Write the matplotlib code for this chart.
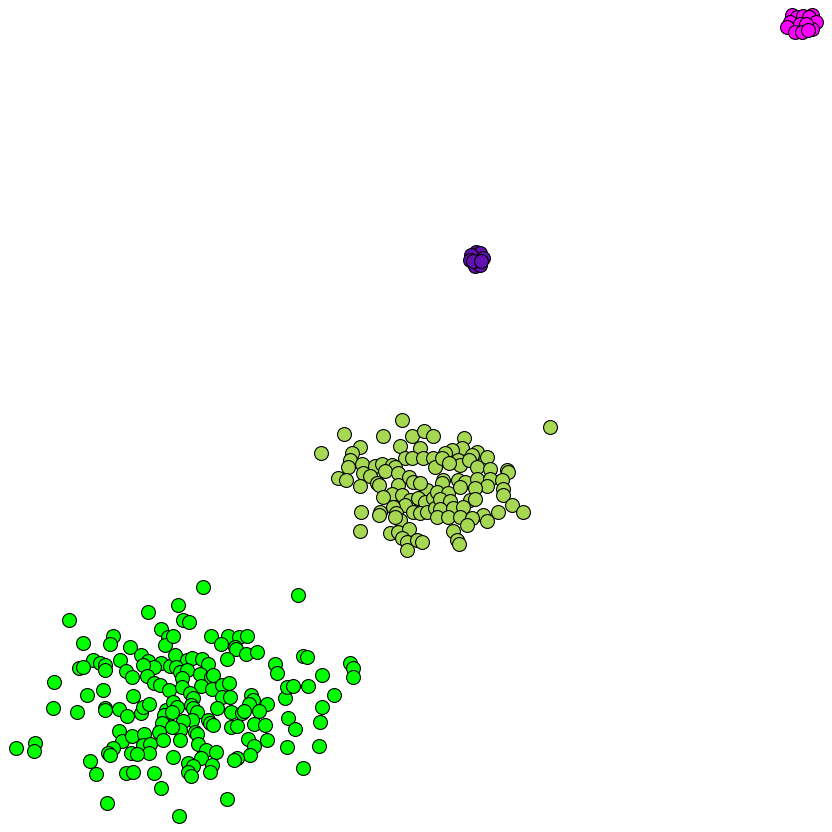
import matplotlib
matplotlib.use('Agg')
import matplotlib.pyplot as plt

# point positions (pixel coords, y down)
green_x = [69, 148, 113, 110, 83, 161, 168, 165, 130, 141, 148, 161, 154, 93, 100, 105, 105, 79, 83, 120,
           126, 132, 143, 147, 154, 160, 169, 170, 54, 87, 103, 133, 53, 77, 105, 105, 119, 127, 141, 143,
           149, 166, 164, 162, 119, 122, 132, 144, 143, 150, 149, 159, 163, 16, 35, 34, 113, 108, 110, 131,
           137, 90, 96, 126, 133, 154, 161, 107,
           203, 298, 178, 183, 189, 173, 211, 228, 239, 247, 221, 235, 236, 246, 257, 227, 275, 277, 303, 307,
           350, 353, 353, 322, 175, 187, 192, 202, 208, 176, 180, 187, 200, 211, 213, 182, 182, 201, 212, 222,
           229, 190, 193, 191, 222, 230, 251, 253, 249, 267, 259, 285, 287, 293, 308, 334, 173, 177, 172, 193,
           197, 217, 231, 242, 244, 208, 210, 213, 192, 183, 231, 237, 254, 265, 288, 295, 322, 320, 180, 172,
           195, 197, 180, 198, 206, 216, 201, 248, 254, 250, 267, 287, 319, 173, 237, 234, 188, 193, 188, 191,
           212, 210, 303, 227, 179]
green_y = [620, 612, 636, 644, 643, 629, 637, 645, 647, 655, 661, 663, 667, 660, 663, 665, 670, 668, 667, 660,
           671, 677, 665, 676, 683, 685, 690, 666, 682, 695, 690, 696, 708, 712, 708, 710, 709, 716, 713, 707,
           704, 710, 715, 723, 731, 741, 736, 734, 745, 744, 753, 732, 740, 748, 743, 751, 748, 753, 755, 753,
           754, 761, 774, 773, 772, 773, 788, 803,
           587, 595, 605, 620, 622, 636, 636, 636, 637, 636, 644, 647, 649, 654, 652, 659, 664, 673, 656, 657,
           663, 668, 677, 675, 655, 660, 658, 659, 664, 667, 672, 670, 674, 677, 675, 678, 687, 686, 689, 685,
           683, 693, 698, 705, 697, 697, 695, 700, 704, 704, 711, 698, 687, 686, 686, 695, 702, 707, 712, 708,
           712, 708, 712, 713, 711, 720, 723, 725, 720, 721, 727, 726, 724, 725, 718, 729, 707, 722, 730, 727,
           732, 734, 740, 744, 750, 752, 758, 739, 746, 755, 740, 747, 746, 757, 758, 760, 763, 766, 772, 776,
           765, 772, 768, 799, 816]

olive_x = [402, 344, 383, 412, 424, 433, 321, 360, 352, 350, 348, 400, 420, 405, 412, 423, 433, 362, 375, 382,
           392, 395, 435, 338, 346, 363, 370, 385, 398, 360, 377, 379, 398, 409, 413, 427, 420, 392, 383, 402,
           410, 405, 418, 425, 433, 361, 380, 379, 393, 396, 400, 413, 420, 427, 435, 395, 360, 390, 398, 409,
           402, 407, 407, 417, 422,
           550, 464, 462, 452, 445, 442, 477, 472, 487, 458, 460, 449, 469, 477, 490, 507, 508, 443, 442, 458,
           465, 477, 490, 502, 503, 503, 487, 437, 448, 460, 475, 440, 450, 470, 475, 512, 523, 498, 483, 487,
           440, 453, 463, 437, 448, 460, 472, 467, 453, 457, 459]
olive_y = [420, 434, 436, 436, 431, 436, 453, 447, 453, 460, 467, 446, 448, 458, 458, 458, 458, 464, 466, 464,
           465, 467, 467, 478, 480, 473, 476, 471, 473, 486, 483, 485, 485, 477, 482, 490, 483, 494, 497, 495,
           500, 505, 498, 502, 498, 512, 512, 515, 507, 513, 520, 512, 513, 512, 508, 517, 531, 533, 532, 529,
           538, 542, 550, 540, 542,
           427, 438, 448, 450, 453, 458, 452, 455, 457, 460, 465, 463, 460, 467, 469, 470, 472, 480, 483, 480,
           482, 479, 479, 480, 489, 495, 486, 492, 493, 487, 488, 499, 501, 500, 499, 505, 512, 512, 515, 521,
           509, 508, 507, 517, 517, 517, 518, 525, 531, 540, 544]

purple_x = [476, 480, 471, 483, 470, 475, 480, 473, 481]
purple_y = [252, 253, 255, 258, 260, 266, 265, 261, 261]

magenta_x = [792, 812, 797, 803, 809, 790, 816, 787, 812, 800, 806, 795, 802, 808]
magenta_y = [15, 15, 17, 16, 17, 22, 22, 27, 29, 24, 24, 32, 32, 30]

fig = plt.figure(figsize=(8.32, 8.32), dpi=100)
ax = fig.add_axes([0, 0, 1, 1])

ax.scatter(green_x, green_y, s=100, c='#00ff00', edgecolors='black', linewidths=0.8)
ax.scatter(olive_x, olive_y, s=100, c='#a6d854', edgecolors='black', linewidths=0.8)
ax.scatter(purple_x, purple_y, s=100, c='#6011b0', edgecolors='black', linewidths=0.8)
ax.scatter(magenta_x, magenta_y, s=100, c='#ff00ff', edgecolors='black', linewidths=0.8)

ax.set_xlim(0, 832)
ax.set_ylim(832, 0)
ax.axis('off')

fig.savefig('out.png', dpi=100)
